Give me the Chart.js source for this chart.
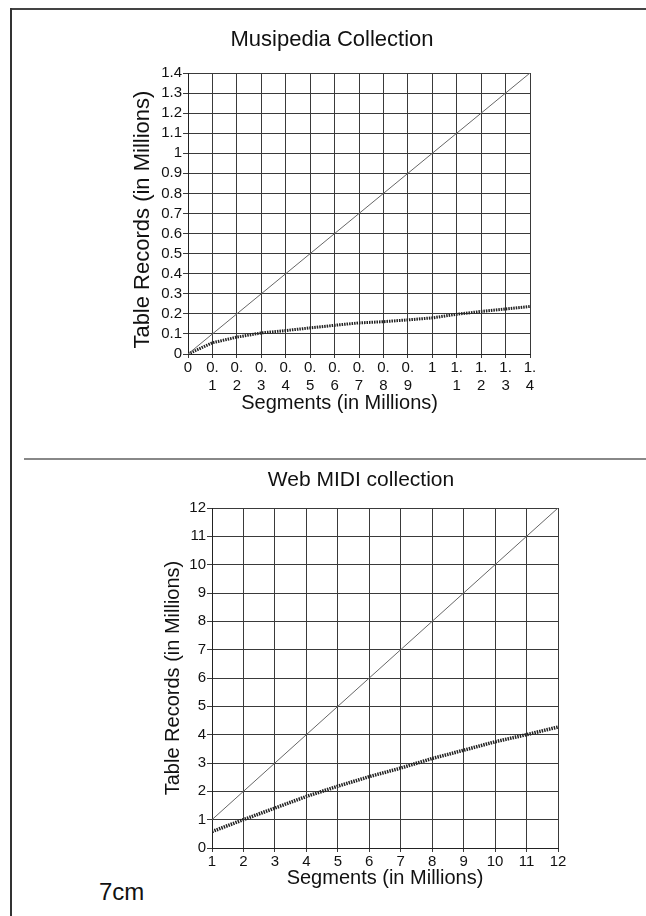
<!DOCTYPE html>
<html>
<head>
<meta charset="utf-8">
<script src="https://cdn.jsdelivr.net/npm/chart.js@4.4.0/dist/chart.umd.min.js"></script>
<style>
  body { margin: 0; background: #fff; width: 646px; height: 916px; overflow: hidden; position: relative; font-family: "Liberation Sans", Arial, sans-serif; }
  #frameTop { position: absolute; left: 10px; top: 8px; width: 636px; height: 2px; background: #444; }
  #frameLeft { position: absolute; left: 10px; top: 8px; width: 2px; height: 908px; background: #333; }
  #sep { position: absolute; left: 24px; top: 458px; width: 622px; height: 2px; background: #888; }
  #note { position: absolute; left: 99px; top: 880px; font-size: 24px; line-height: 24px; color: #111; }
  canvas { position: absolute; }
  #c1 { left: 92px; top: 12px; }
  #c2 { left: 141px; top: 455px; }
</style>
</head>
<body>
<div id="frameTop"></div>
<div id="frameLeft"></div>
<div id="sep"></div>
<div id="note">7cm</div>
<canvas id="c1" width="480" height="420"></canvas>
<canvas id="c2" width="440" height="450"></canvas>
<script>
// Musipedia collection (millions)
const segments1 = [0, 0.1, 0.2, 0.3, 0.4, 0.5, 0.6, 0.7, 0.8, 0.9, 1.0, 1.1, 1.2, 1.3, 1.4];
const upper1 = [0, 0.1, 0.2, 0.3, 0.4, 0.5, 0.6, 0.7, 0.8, 0.9, 1.0, 1.1, 1.2, 1.3, 1.4];
const records1 = [0, 0.056, 0.084, 0.105, 0.117, 0.13, 0.143, 0.155, 0.161, 0.17, 0.18, 0.198, 0.212, 0.224, 0.237];
const xTicks1 = [['0'], ['0.', '1'], ['0.', '2'], ['0.', '3'], ['0.', '4'], ['0.', '5'], ['0.', '6'], ['0.', '7'], ['0.', '8'], ['0.', '9'], ['1'], ['1.', '1'], ['1.', '2'], ['1.', '3'], ['1.', '4']];
const yTicks1 = ['0', '0.1', '0.2', '0.3', '0.4', '0.5', '0.6', '0.7', '0.8', '0.9', '1', '1.1', '1.2', '1.3', '1.4'];

// Web MIDI collection (millions)
const segments2 = [1, 2, 3, 4, 5, 6, 7, 8, 9, 10, 11, 12];
const upper2 = [1, 2, 3, 4, 5, 6, 7, 8, 9, 10, 11, 12];
const records2 = [0.58, 1.0, 1.41, 1.82, 2.18, 2.52, 2.82, 3.16, 3.45, 3.75, 4.0, 4.27];

const FONT = '"Liberation Sans", Arial, sans-serif';
const NB = '\u00a0';
const toPoints = (xs, ys) => xs.map((x, i) => ({ x: x, y: ys[i] }));

function makeChart(id, cfg) {
    return new Chart(document.getElementById(id).getContext('2d'), {
        type: 'line',
        data: {
            datasets: [{
                data: toPoints(cfg.xs, cfg.upper),
                borderColor: '#666',
                borderWidth: 1,
                pointRadius: 0
            }, {
                data: toPoints(cfg.xs, cfg.records),
                borderColor: '#222',
                borderWidth: cfg.dotWidth,
                borderDash: [1.5, 1],
                pointRadius: 0
            }]
        },
        options: {
            responsive: false,
            animation: false,
            layout: { padding: 0 },
            plugins: {
                legend: { display: false },
                tooltip: { enabled: false },
                title: {
                    display: true,
                    text: cfg.title,
                    color: '#111',
                    font: { family: FONT, size: cfg.titleSize, weight: 'normal' },
                    padding: { top: cfg.titleTop, bottom: cfg.titleBottom }
                }
            },
            scales: {
                x: {
                    type: 'linear',
                    min: cfg.xMin, max: cfg.xMax,
                    afterFit: s => { s.height = cfg.xAxisH; },
                    grid: { color: '#3a3a3a', tickLength: cfg.xTickLen },
                    border: { color: '#222' },
                    ticks: {
                        stepSize: cfg.xStep,
                        maxRotation: 0,
                        autoSkip: false,
                        padding: cfg.xTickPad,
                        color: '#111',
                        font: { family: FONT, size: cfg.xTickSize, lineHeight: cfg.xTickLH },
                        callback: cfg.xLabel
                    },
                    title: {
                        display: true,
                        text: cfg.xTitle,
                        color: '#111',
                        font: { family: FONT, size: 20 },
                        padding: { top: 0, bottom: cfg.xTitlePad }
                    }
                },
                y: {
                    min: cfg.yMin, max: cfg.yMax,
                    afterFit: s => { s.width = cfg.yAxisW; },
                    grid: { color: '#3a3a3a', tickLength: 5 },
                    border: { color: '#222' },
                    ticks: {
                        stepSize: cfg.yStep,
                        autoSkip: false,
                        padding: 1,
                        color: '#111',
                        font: { family: FONT, size: cfg.yTickSize },
                        callback: cfg.yLabel
                    },
                    title: {
                        display: true,
                        text: cfg.yTitle,
                        color: '#111',
                        font: { family: FONT, size: cfg.yTitleSize },
                        padding: { top: cfg.yTitlePad, bottom: 0 }
                    }
                },
                // empty right axis, only keeps blank space right of the plot
                yRight: {
                    position: 'right',
                    afterFit: s => { s.width = cfg.rightW; },
                    grid: { display: false },
                    border: { display: false },
                    ticks: { display: false }
                }
            }
        }
    });
}

makeChart('c1', {
    xs: segments1, upper: upper1, records: records1,
    title: 'Musipedia Collection', titleSize: 22, titleTop: 15, titleBottom: 19.6,
    rightW: 42,
    xMin: 0, xMax: 1.4, xStep: 0.1, xAxisH: 78, xTickLen: 4, xTickPad: 1.5,
    xTickSize: 15, xTickLH: 1.15, xTitlePad: 17,
    xTitle: 'Segments (in Millions)' + NB.repeat(7),
    xLabel: (v, i) => xTicks1[i],
    yMin: 0, yMax: 1.4, yStep: 0.1, yAxisW: 96, yTickSize: 15,
    yTitle: 'Table Records (in Millions)' + NB.repeat(2),
    yTitleSize: 22, yTitlePad: 37.8,
    yLabel: (v, i) => yTicks1[i],
    dotWidth: 3
});

makeChart('c2', {
    xs: segments2, upper: upper2, records: records2,
    title: 'Web MIDI collection', titleSize: 21, titleTop: 12.4, titleBottom: 15.4,
    rightW: 23,
    xMin: 1, xMax: 12, xStep: 1, xAxisH: 57, xTickLen: 4, xTickPad: 2,
    xTickSize: 15, xTickLH: 1, xTitlePad: 15,
    xTitle: 'Segments (in Millions)',
    xLabel: v => String(v),
    yMin: 0, yMax: 12, yStep: 1, yAxisW: 71, yTickSize: 15,
    yTitle: 'Table Records (in Millions)',
    yTitleSize: 20, yTitlePad: 20,
    yLabel: v => String(v),
    dotWidth: 3.5
});
</script>
</body>
</html>
